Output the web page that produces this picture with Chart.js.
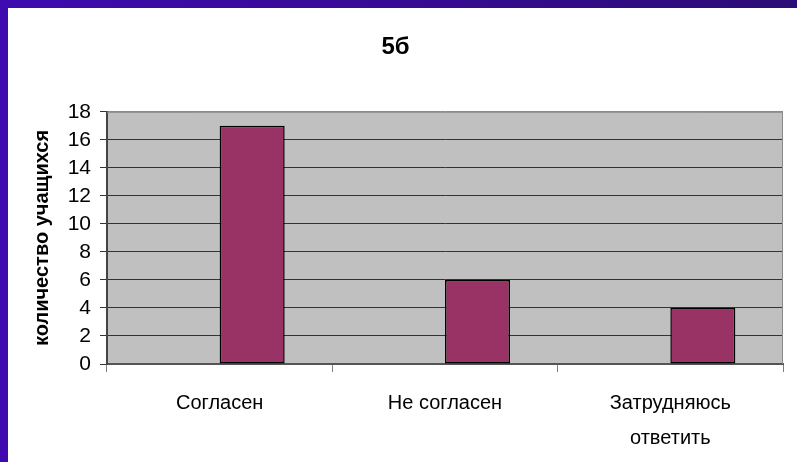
<!DOCTYPE html>
<html>
<head>
<meta charset="utf-8">
<script src="https://cdn.jsdelivr.net/npm/chart.js@4/dist/chart.umd.min.js"></script>
<style>
  html, body { margin: 0; padding: 0; width: 797px; height: 462px; overflow: hidden; }
  body { background: linear-gradient(to right, #3f0bb0, #2c0c76); position: relative; }
  #frame { position: absolute; left: 8px; top: 8px; width: 789px; height: 454px; background: #ffffff; }
  canvas { display: block; }
</style>
</head>
<body>
<div id="frame"><canvas id="c" width="789" height="454"></canvas></div>
<script>
const chartTitle = '5б';
const yAxisTitle = 'количество учащихся';
const categories = ['Согласен', 'Не согласен', ['Затрудняюсь', 'ответить']];
const emptySeries = [null, null, null];
const answerCounts = [17, 6, 4];
const yTicks = { min: 0, max: 18, step: 2 };

const FONT = '"Liberation Sans", Arial, sans-serif';

const plotBg = {
  id: 'plotBg',
  beforeDraw(chart) {
    const { ctx, chartArea: a } = chart;
    ctx.save();
    ctx.fillStyle = '#c0c0c0';
    ctx.fillRect(a.left, a.top, a.right - a.left, a.bottom - a.top);
    ctx.restore();
  },
  afterDatasetsDraw(chart) {
    const { ctx, chartArea: a } = chart;
    ctx.save();
    ctx.strokeStyle = '#8a8a8a';
    ctx.lineWidth = 1;
    ctx.beginPath();
    ctx.moveTo(a.left, a.top + 0.5);
    ctx.lineTo(a.right - 0.5, a.top + 0.5);
    ctx.lineTo(a.right - 0.5, a.bottom);
    ctx.stroke();
    ctx.restore();
  }
};

new Chart(document.getElementById('c'), {
  type: 'bar',
  data: {
    labels: categories,
    datasets: [
      { label: 'пусто', data: emptySeries, backgroundColor: 'rgba(0,0,0,0)' },
      { label: 'ответы', data: answerCounts, backgroundColor: '#993366', borderColor: '#000000', borderWidth: 1.5, borderSkipped: false }
    ]
  },
  options: {
    responsive: false,
    animation: false,
    devicePixelRatio: 1,
    categoryPercentage: 0.577,
    barPercentage: 1.0,
    layout: { padding: { left: 0, right: 14, top: 0, bottom: 0 } },
    plugins: {
      legend: { display: false },
      tooltip: { enabled: false },
      title: {
        display: true,
        text: chartTitle,
        color: '#000',
        font: { family: FONT, size: 24, weight: 'bold', lineHeight: 1.2 },
        padding: { top: 25, bottom: 50 }
      }
    },
    scales: {
      x: {
        offset: true,
        grid: {
          display: true,
          drawOnChartArea: false,
          drawTicks: true,
          tickLength: 8,
          color: '#808080',
          offset: true
        },
        border: { display: true, color: '#555555', width: 2 },
        ticks: {
          color: '#000',
          font: { family: FONT, size: 20, lineHeight: 1.75 },
          padding: 14,
          maxRotation: 0,
          autoSkip: false
        },
        afterFit(scale) { scale.height = 98; }
      },
      y: {
        min: yTicks.min,
        max: yTicks.max,
        grid: {
          color: (c) => (c.tick && c.tick.value === yTicks.max) ? '#8a8a8a' : '#333333',
          lineWidth: 1,
          tickLength: 7,
          tickColor: '#333333'
        },
        border: { display: true, color: '#444444', width: 2 },
        ticks: {
          stepSize: yTicks.step,
          autoSkip: false,
          color: '#000',
          font: { family: FONT, size: 21, lineHeight: 1 },
          padding: 9
        },
        title: {
          display: true,
          text: yAxisTitle,
          color: '#000',
          font: { family: FONT, size: 20, weight: 'bold', lineHeight: 1.2 },
          padding: { top: 22, bottom: 0 }
        },
        afterFit(scale) { scale.width = 99; }
      }
    }
  },
  plugins: [plotBg]
});
</script>
</body>
</html>
